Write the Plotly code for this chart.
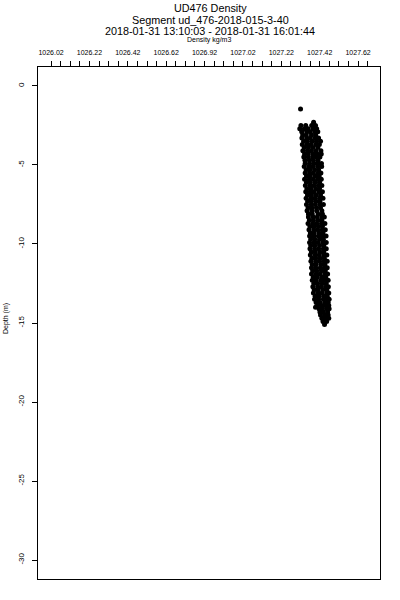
import plotly.graph_objects as go

# Depth levels (m) and the density readings (kg/m3) seen at each level
depth_levels = [-1.45, -2.3, -2.5, -2.7, -2.9, -3.1, -3.3, -3.5, -3.7, -3.9, -4.1, -4.3, -4.5, -4.7, -4.9,
                -5.1, -5.3, -5.5, -5.7, -5.9, -6.1, -6.3, -6.5, -6.7, -6.9, -7.1, -7.3, -7.5, -7.7, -7.9,
                -8.1, -8.3, -8.5, -8.7, -8.9, -9.1, -9.3, -9.5, -9.7, -9.9, -10.1, -10.3, -10.5, -10.7,
                -10.9, -11.1, -11.3, -11.5, -11.7, -11.9, -12.1, -12.3, -12.5, -12.7, -12.9, -13.1, -13.3,
                -13.5, -13.7, -13.9, -14.0, -14.1, -14.3, -14.5, -14.7, -14.9, -15.1]

density_rows = [
    [1027.32],
    [1027.388],
    [1027.322, 1027.347, 1027.378, 1027.398],
    [1027.316, 1027.34, 1027.36, 1027.386, 1027.404],
    [1027.326, 1027.352, 1027.37, 1027.394, 1027.41],
    [1027.331, 1027.35, 1027.377, 1027.399],
    [1027.327, 1027.352, 1027.371, 1027.396, 1027.414],
    [1027.336, 1027.356, 1027.381, 1027.403, 1027.424],
    [1027.329, 1027.353, 1027.374, 1027.399, 1027.418],
    [1027.339, 1027.361, 1027.384, 1027.41],
    [1027.332, 1027.356, 1027.377, 1027.401, 1027.426],
    [1027.341, 1027.361, 1027.386, 1027.407, 1027.428],
    [1027.337, 1027.36, 1027.383, 1027.404, 1027.421],
    [1027.343, 1027.366, 1027.387, 1027.411],
    [1027.344, 1027.367, 1027.391, 1027.411, 1027.429],
    [1027.339, 1027.363, 1027.384, 1027.409, 1027.43],
    [1027.349, 1027.369, 1027.393, 1027.414],
    [1027.344, 1027.367, 1027.387, 1027.411, 1027.426],
    [1027.351, 1027.371, 1027.396, 1027.417],
    [1027.341, 1027.366, 1027.387, 1027.411, 1027.428],
    [1027.351, 1027.371, 1027.396, 1027.419],
    [1027.345, 1027.369, 1027.389, 1027.413, 1027.431],
    [1027.353, 1027.374, 1027.399, 1027.419],
    [1027.347, 1027.371, 1027.391, 1027.416, 1027.434],
    [1027.356, 1027.377, 1027.401, 1027.424],
    [1027.349, 1027.373, 1027.394, 1027.419, 1027.437],
    [1027.357, 1027.377, 1027.401, 1027.421],
    [1027.351, 1027.376, 1027.397, 1027.421, 1027.439],
    [1027.359, 1027.379, 1027.403, 1027.424],
    [1027.354, 1027.379, 1027.404, 1027.431],
    [1027.361, 1027.381, 1027.411, 1027.434],
    [1027.361, 1027.386, 1027.407, 1027.431, 1027.444],
    [1027.366, 1027.387, 1027.411, 1027.431],
    [1027.359, 1027.383, 1027.404, 1027.429, 1027.447],
    [1027.369, 1027.389, 1027.413, 1027.434],
    [1027.364, 1027.389, 1027.409, 1027.433, 1027.449],
    [1027.371, 1027.391, 1027.416, 1027.437],
    [1027.367, 1027.389, 1027.413, 1027.434, 1027.453],
    [1027.373, 1027.394, 1027.419, 1027.439],
    [1027.367, 1027.391, 1027.411, 1027.436, 1027.454],
    [1027.373, 1027.394, 1027.419, 1027.441],
    [1027.369, 1027.393, 1027.414, 1027.439, 1027.454],
    [1027.376, 1027.397, 1027.421, 1027.441],
    [1027.371, 1027.396, 1027.417, 1027.441, 1027.457],
    [1027.379, 1027.399, 1027.423, 1027.444],
    [1027.374, 1027.399, 1027.419, 1027.443, 1027.459],
    [1027.381, 1027.401, 1027.426, 1027.447],
    [1027.377, 1027.399, 1027.423, 1027.444, 1027.459],
    [1027.383, 1027.404, 1027.429, 1027.449],
    [1027.377, 1027.401, 1027.421, 1027.446, 1027.461],
    [1027.386, 1027.407, 1027.431, 1027.451],
    [1027.381, 1027.401, 1027.426, 1027.447, 1027.464],
    [1027.389, 1027.409, 1027.433, 1027.454],
    [1027.384, 1027.409, 1027.429, 1027.453, 1027.465],
    [1027.391, 1027.411, 1027.436, 1027.457],
    [1027.387, 1027.411, 1027.431, 1027.456, 1027.467],
    [1027.396, 1027.417, 1027.441, 1027.459],
    [1027.393, 1027.414, 1027.439, 1027.459, 1027.469],
    [1027.401, 1027.421, 1027.446, 1027.464],
    [1027.409, 1027.431, 1027.449, 1027.467],
    [1027.398],
    [1027.416, 1027.434, 1027.456, 1027.469],
    [1027.421, 1027.439, 1027.461],
    [1027.424, 1027.446, 1027.464],
    [1027.431, 1027.449, 1027.467],
    [1027.437, 1027.456],
    [1027.445],
]

x_tick_values = [1026.02, 1026.22, 1026.42, 1026.62, 1026.82, 1027.02, 1027.22, 1027.42, 1027.62]
x_tick_labels = ["1026.02", "1026.22", "1026.42", "1026.62", "1026.92", "1027.02", "1027.22", "1027.42", "1027.62"]
x_minor_step = 0.05
y_tick_values = [0, -5, -10, -15, -20, -25, -30]
y_tick_labels = ["0", "-5", "-10", "-15", "-20", "-25", "-30"]

title_lines = ["UD476 Density", "Segment ud_476-2018-015-3-40", "2018-01-31 13:10:03 - 2018-01-31 16:01:44"]
x_title = "Density kg/m3"
y_title = "Depth (m)"

xs, ys = [], []
for d, row in zip(depth_levels, density_rows):
    for v in row:
        xs.append(v)
        ys.append(d)

all_ticks = [round(1026.02 + i * x_minor_step, 2) for i in range(34)]
all_text = []
for t in all_ticks:
    lab = ""
    for tv, tl in zip(x_tick_values, x_tick_labels):
        if abs(tv - t) < 1e-6:
            lab = tl
    all_text.append(lab)

FONT = "Liberation Sans, Arial, sans-serif"
W, H = 400, 600
ML, MR, MT, MB = 38, 20, 67, 21
PH = H - MT - MB
PW = W - ML - MR


def py(ypix):
    return (H - MB - ypix) / PH


def px(xpix):
    return (xpix - ML) / PW


fig = go.Figure()
fig.add_trace(go.Scatter(
    x=xs, y=ys, mode="markers",
    marker=dict(color="black", size=5, symbol="circle", line=dict(width=0)),
    showlegend=False, hoverinfo="skip",
))

annotations = []
for text, ycen in zip(title_lines, [8, 19.5, 30.5]):
    annotations.append(dict(text=text, x=px(210), y=py(ycen), xref="paper", yref="paper",
                            xanchor="center", yanchor="middle", showarrow=False,
                            font=dict(size=10.8, family=FONT, color="black")))
annotations.append(dict(text=x_title, x=px(209), y=py(39.5), xref="paper", yref="paper",
                        xanchor="center", yanchor="middle", showarrow=False,
                        font=dict(size=7, family=FONT, color="black")))
annotations.append(dict(text=y_title, x=px(6), y=py(319), xref="paper", yref="paper",
                        xanchor="center", yanchor="middle", showarrow=False, textangle=-90,
                        font=dict(size=7, family=FONT, color="black")))

fig.update_layout(
    width=W, height=H,
    margin=dict(l=ML, r=MR, t=MT, b=MB),
    paper_bgcolor="white", plot_bgcolor="white",
    font=dict(family=FONT, color="black"),
    annotations=annotations,
    xaxis=dict(
        side="top", range=[1025.952, 1027.734], automargin=False,
        tickmode="array", tickvals=all_ticks, ticktext=all_text,
        ticks="outside", ticklen=5, tickwidth=1, tickcolor="black",
        tickfont=dict(size=7, family=FONT), ticklabelstandoff=3,
        showline=True, mirror=True, linecolor="black", linewidth=1,
        showgrid=False, zeroline=False,
    ),
    yaxis=dict(
        range=[-31.2, 1.2], automargin=False,
        tickmode="array", tickvals=y_tick_values, ticktext=y_tick_labels,
        tickangle=-90,
        ticks="outside", ticklen=5, tickwidth=1, tickcolor="black",
        tickfont=dict(size=8, family=FONT), ticklabelstandoff=5,
        showline=True, mirror=True, linecolor="black", linewidth=1,
        showgrid=False, zeroline=False,
    ),
)

# remove the default page margin so the 400x600 figure fills the window exactly
fig.write_html(
    "out.html",
    config={"displayModeBar": False},
    post_script="document.body.style.margin='0';document.body.style.overflow='hidden';",
)
